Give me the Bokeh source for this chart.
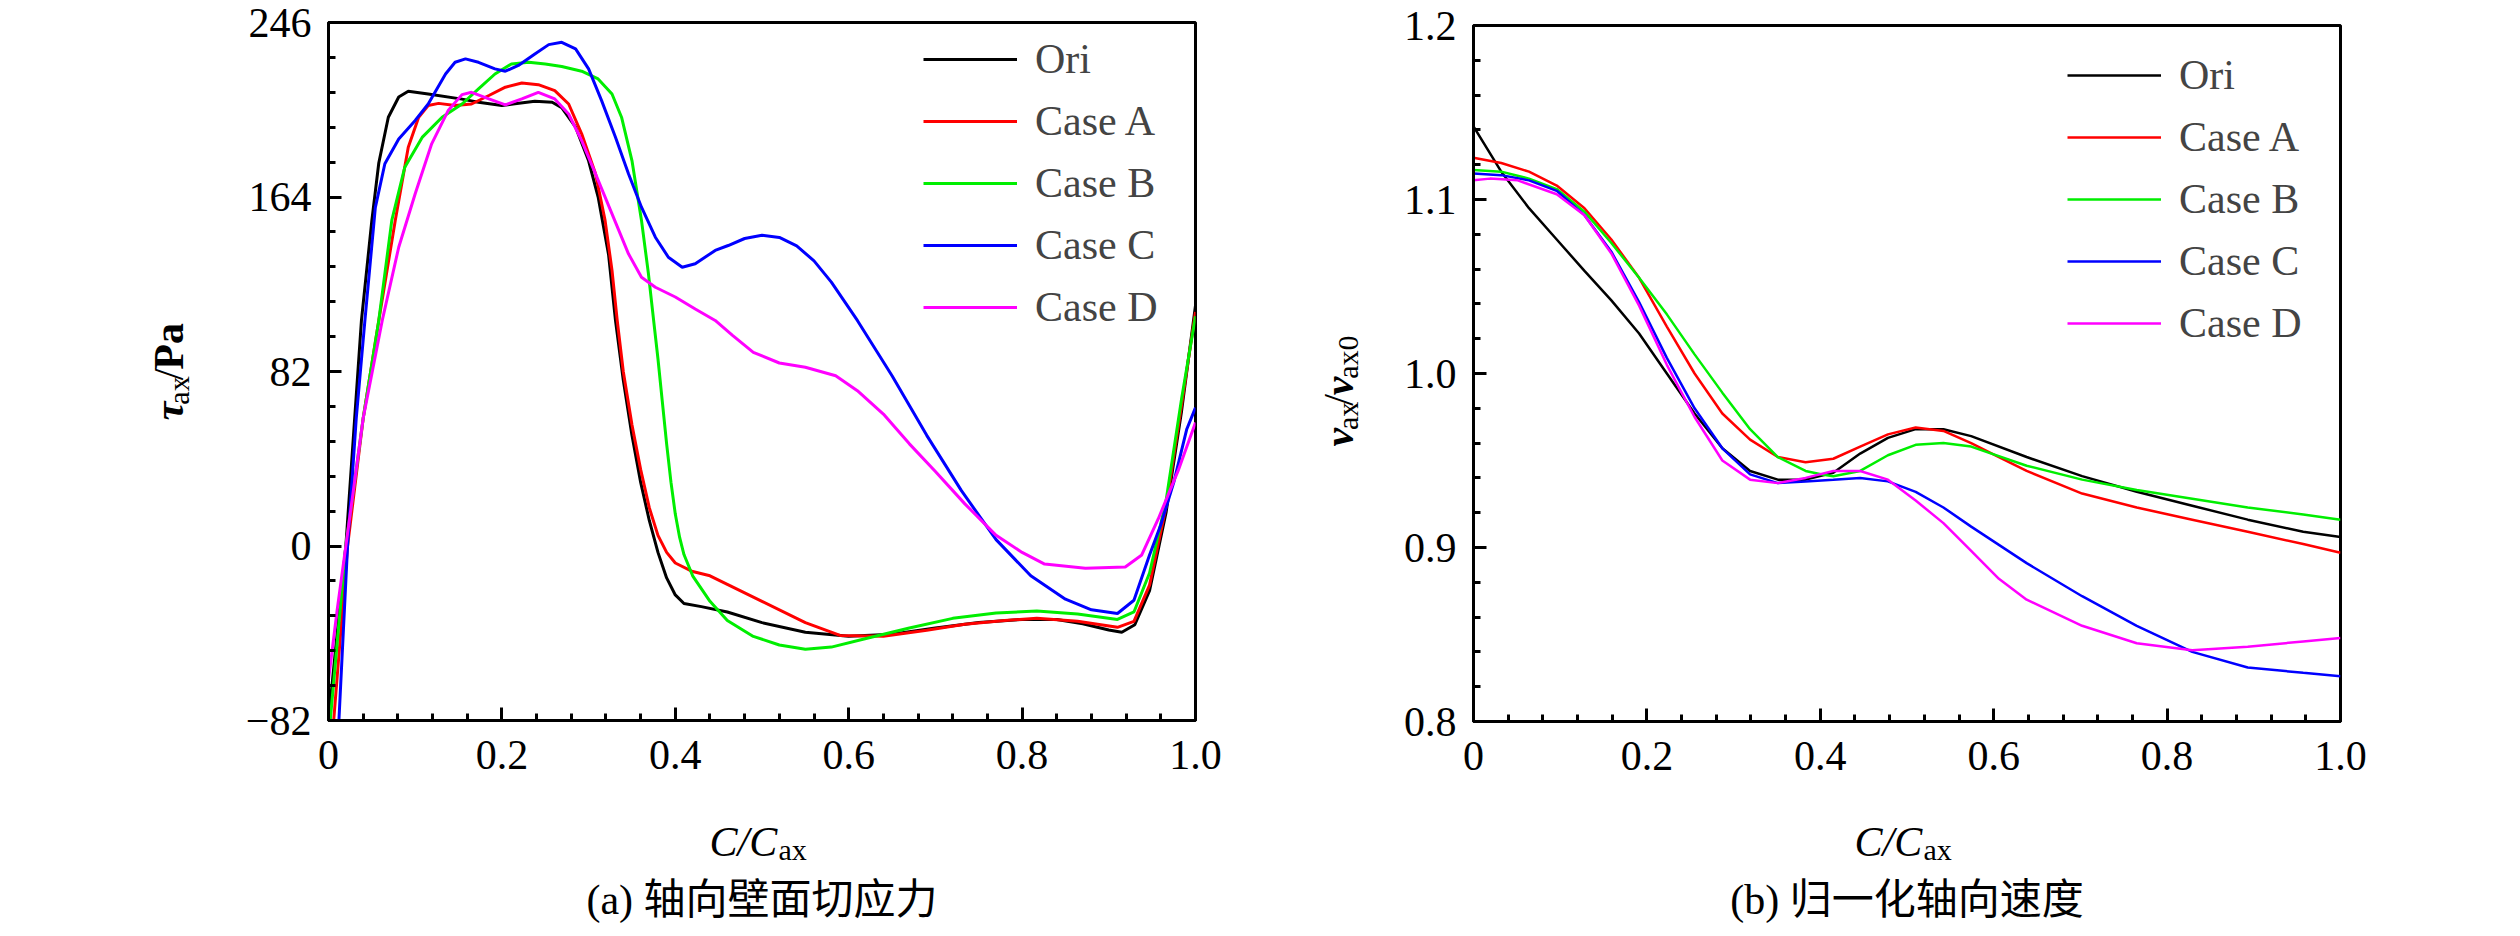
import math
from bokeh.plotting import figure
from bokeh.layouts import row, column
from bokeh.models import Range1d, FixedTicker, Label, Legend, LegendItem
from bokeh.embed import file_html
from bokeh.resources import INLINE

# ---- (a) axial wall shear stress, tau_ax / Pa ----
a_ori_x = [0.0, 0.02, 0.038, 0.05, 0.058, 0.069, 0.081, 0.092, 0.115, 0.154, 0.173, 0.2, 0.215, 0.238, 0.258,
           0.269, 0.285, 0.30, 0.311, 0.323, 0.331, 0.34, 0.35, 0.36, 0.37, 0.38, 0.39, 0.40, 0.41, 0.43, 0.46,
           0.50, 0.55, 0.60, 0.65, 0.70, 0.75, 0.80, 0.84, 0.87, 0.90, 0.915, 0.93, 0.947, 0.966, 0.984, 1.0]
a_ori_y = [-82, 0, 106, 153, 180, 201.5, 211, 213.7, 212.4, 210, 208.5, 207, 207.8, 209, 208.5,
           206, 196.8, 181, 164, 137, 106, 78, 52, 30, 12, -3, -15, -23, -27, -28.5, -31,
           -36, -40.5, -42.4, -41.5, -38.5, -36, -34.5, -34.5, -36.5, -39.5, -40.5, -37, -21, 15.6, 63.6, 113]

a_a_x = [0.006, 0.022, 0.04, 0.058, 0.077, 0.092, 0.104, 0.115, 0.127, 0.146, 0.165, 0.185, 0.204, 0.223, 0.242,
         0.261, 0.277, 0.292, 0.308, 0.319, 0.327, 0.333, 0.34, 0.35, 0.36, 0.37, 0.38, 0.39, 0.40, 0.42, 0.44,
         0.46, 0.50, 0.55, 0.59, 0.64, 0.69, 0.734, 0.78, 0.817, 0.864, 0.91, 0.929, 0.947, 0.966, 0.984, 1.0]
a_a_y = [-82, 0, 60, 106, 153, 187.4, 201.5, 207, 208, 207, 207.7, 211.7, 215.6, 217.6, 216.8,
         214, 207.7, 193.7, 174.9, 153, 129.5, 106, 82, 57, 36, 18, 5, -3, -8, -12, -14,
         -18, -26, -36, -42, -42.4, -39.6, -36.8, -35, -33.9, -35.4, -38.2, -35.4, -18.4, 18.4, 66.5, 110]

a_b_x = [0.002, 0.02, 0.04, 0.058, 0.073, 0.088, 0.108, 0.131, 0.154, 0.173, 0.192, 0.211, 0.231, 0.25, 0.269,
         0.292, 0.311, 0.327, 0.338, 0.35, 0.361, 0.369, 0.375, 0.38, 0.385, 0.39, 0.395, 0.40, 0.405, 0.41,
         0.42, 0.44, 0.46, 0.49, 0.52, 0.55, 0.58, 0.62, 0.67, 0.72, 0.77, 0.817, 0.864, 0.91, 0.929, 0.947,
         0.966, 0.984, 1.0]
a_b_y = [-82, 0, 60, 106, 153, 178, 192, 201.5, 207.7, 214.8, 221.8, 226.5, 227.3, 226.5, 225.3,
         223.1, 219.5, 212.4, 201.5, 181.1, 153, 128, 106, 88, 68, 48, 30, 15, 4, -4,
         -14, -26, -35, -42.5, -46.5, -48.5, -47.5, -43.5, -38.5, -34, -31.5, -30.5, -32, -34.5, -31, -12.7,
         21.2, 69.3, 108]

a_c_x = [0.012, 0.022, 0.032, 0.042, 0.054, 0.065, 0.081, 0.1, 0.115, 0.135, 0.146, 0.158, 0.173, 0.192, 0.204,
         0.219, 0.238, 0.254, 0.269, 0.285, 0.3, 0.315, 0.331, 0.346, 0.361, 0.377, 0.392, 0.408, 0.423, 0.446,
         0.461, 0.48, 0.50, 0.52, 0.54, 0.56, 0.58, 0.61, 0.65, 0.69, 0.73, 0.77, 0.81, 0.85, 0.88, 0.91,
         0.929, 0.947, 0.96, 0.975, 0.99, 1.0]
a_c_y = [-82, 0, 60, 106, 159, 179.6, 191.3, 200, 207.7, 221.8, 227.3, 228.9, 227.3, 224.2, 223.1,
         225.8, 231.2, 235.6, 236.7, 233.6, 224.2, 209.3, 192.1, 174.9, 159.2, 145.1, 135.7, 131, 132.6, 138.9,
         141.2, 144.5, 146, 145, 141, 134, 124, 106, 80, 52, 26, 3, -14, -25, -30, -31.7,
         -25.5, -4.2, 10, 30, 55, 65]

a_d_x = [0.0, 0.01, 0.02, 0.04, 0.062, 0.081, 0.1, 0.119, 0.138, 0.154, 0.165, 0.185, 0.204, 0.223, 0.242,
         0.261, 0.277, 0.292, 0.308, 0.327, 0.346, 0.361, 0.377, 0.40, 0.423, 0.446, 0.466, 0.49, 0.52, 0.55,
         0.585, 0.61, 0.64, 0.67, 0.70, 0.734, 0.77, 0.80, 0.826, 0.873, 0.919, 0.938, 0.957, 0.98, 1.0]
a_d_y = [-63, -30, 0, 60, 106, 140.4, 165.5, 189, 204.6, 212.1, 213.2, 210.1, 207.3, 210.1, 213.2,
         210.1, 203, 190.5, 174.9, 156.1, 137.3, 126.3, 121.6, 117, 111.4, 106, 99, 91, 86, 84,
         80, 73, 62, 48, 35, 19.8, 5, -3, -8.5, -10.5, -9.9, -4.2, 12.7, 35.4, 58]

# ---- (b) normalised axial velocity, v_ax / v_ax0 ----
b_ori_x = [0, 0.032, 0.064, 0.096, 0.128, 0.159, 0.191, 0.223, 0.255, 0.287, 0.319, 0.351, 0.383, 0.415,
           0.446, 0.478, 0.510, 0.542, 0.574, 0.638, 0.702, 0.765, 0.829, 0.893, 0.957, 1.0]
b_ori_y = [1.142, 1.116, 1.095, 1.077, 1.059, 1.042, 1.023, 1.0, 0.977, 0.957, 0.944, 0.939, 0.939, 0.943,
           0.954, 0.963, 0.968, 0.968, 0.964, 0.952, 0.941, 0.932, 0.924, 0.916, 0.909, 0.906]

b_a_x = [0, 0.032, 0.064, 0.096, 0.128, 0.159, 0.191, 0.223, 0.255, 0.287, 0.319, 0.351, 0.383, 0.415,
         0.446, 0.478, 0.510, 0.542, 0.574, 0.606, 0.638, 0.702, 0.765, 0.829, 0.893, 0.957, 1.0]
b_a_y = [1.124, 1.121, 1.116, 1.108, 1.095, 1.077, 1.055, 1.027, 1.0, 0.977, 0.962, 0.952, 0.949, 0.951,
         0.958, 0.965, 0.969, 0.967, 0.960, 0.952, 0.944, 0.931, 0.923, 0.916, 0.909, 0.902, 0.897]

b_b_x = [0, 0.032, 0.064, 0.096, 0.128, 0.159, 0.191, 0.223, 0.255, 0.287, 0.319, 0.351, 0.383, 0.402,
         0.415, 0.446, 0.478, 0.510, 0.542, 0.574, 0.638, 0.702, 0.765, 0.829, 0.893, 0.957, 1.0]
b_b_y = [1.117, 1.116, 1.112, 1.106, 1.093, 1.075, 1.055, 1.034, 1.011, 0.989, 0.968, 0.952, 0.944, 0.942,
         0.941, 0.944, 0.953, 0.959, 0.960, 0.958, 0.947, 0.939, 0.933, 0.928, 0.923, 0.919, 0.916]

b_c_x = [0, 0.032, 0.064, 0.096, 0.128, 0.159, 0.191, 0.223, 0.255, 0.287, 0.319, 0.351, 0.383, 0.415,
         0.446, 0.478, 0.510, 0.542, 0.574, 0.638, 0.702, 0.765, 0.829, 0.893, 0.957, 1.0]
b_c_y = [1.115, 1.114, 1.111, 1.105, 1.091, 1.070, 1.041, 1.009, 0.980, 0.957, 0.942, 0.937, 0.938, 0.939,
         0.940, 0.938, 0.932, 0.923, 0.912, 0.891, 0.872, 0.855, 0.840, 0.831, 0.828, 0.826]

b_d_x = [0, 0.019, 0.051, 0.096, 0.128, 0.159, 0.191, 0.223, 0.255, 0.287, 0.319, 0.351, 0.383, 0.415,
         0.446, 0.478, 0.510, 0.542, 0.574, 0.606, 0.638, 0.702, 0.765, 0.829, 0.893, 0.957, 1.0]
b_d_y = [1.111, 1.112, 1.111, 1.103, 1.091, 1.069, 1.039, 1.005, 0.975, 0.950, 0.939, 0.937, 0.940, 0.944,
         0.944, 0.939, 0.927, 0.914, 0.898, 0.882, 0.870, 0.855, 0.845, 0.841, 0.843, 0.846, 0.848]

names = ["Ori", "Case A", "Case B", "Case C", "Case D"]
colors = ["#000000", "#ff0000", "#00ee00", "#0000ff", "#ff00ff"]

x_ticks = [0, 0.2, 0.4, 0.6, 0.8, 1.0]
x_labels = ["0", "0.2", "0.4", "0.6", "0.8", "1.0"]
a_ticks = [-82, 0, 82, 164, 246]
a_labels = ["\u221282", "0", "82", "164", "246"]
b_ticks = [0.8, 0.9, 1.0, 1.1, 1.2]
b_labels = ["0.8", "0.9", "1.0", "1.1", "1.2"]

SERIF = "Liberation Serif"
CAPTION_FONT = "Liberation Serif, Noto Sans CJK SC"
UP = math.pi / 2


def text_box(w, h):
    # blank canvas whose data units are pixels, only used to hold text
    p = figure(width=w, height=h, x_range=Range1d(0, w), y_range=Range1d(0, h),
               x_axis_type=None, y_axis_type=None, min_border=0,
               output_backend="svg", toolbar_location=None)
    p.outline_line_color = None
    p.grid.visible = False
    return p


def txt(p, x, y, text, size, style="normal", angle=0.0, align="left", font=SERIF):
    p.add_layout(Label(x=x, y=y, text=text, text_font=font, text_font_size=size,
                       text_font_style=style, text_color="black", angle=angle,
                       text_align=align, text_baseline="alphabetic"))


def panel(series, yr, yt, ylab, yminor, w, border, lw, leg_loc):
    p = figure(width=w, height=800, x_range=Range1d(0, 1), y_range=Range1d(*yr),
               output_backend="svg", toolbar_location=None,
               min_border_left=border[0], min_border_right=border[1],
               min_border_top=border[2], min_border_bottom=border[3])
    p.grid.visible = False
    p.outline_line_color = "black"
    p.outline_line_width = 3

    items = []
    for (xs, ys), name, c in zip(series, names, colors):
        r = p.line(xs, ys, line_color=c, line_width=lw)
        items.append(LegendItem(label=name, renderers=[r]))

    p.xaxis.ticker = FixedTicker(ticks=x_ticks, minor_ticks=[i * 0.04 for i in range(26)])
    p.xaxis.major_label_overrides = dict(zip(x_ticks, x_labels))
    p.yaxis.ticker = FixedTicker(ticks=yt, minor_ticks=yminor)
    p.yaxis.major_label_overrides = dict(zip(yt, ylab))
    for ax in (p.xaxis[0], p.yaxis[0]):
        ax.axis_line_width = 3
        ax.major_tick_in = 13
        ax.major_tick_out = 0
        ax.minor_tick_in = 7
        ax.minor_tick_out = 0
        ax.major_tick_line_width = 3
        ax.minor_tick_line_width = 3
        ax.major_label_text_font = SERIF
        ax.major_label_text_font_size = "42px"
        ax.major_label_text_color = "black"
    p.xaxis.major_label_standoff = 20
    p.yaxis.major_label_standoff = 17

    leg = Legend(items=items, location=leg_loc, border_line_color=None,
                 background_fill_alpha=0, padding=0, margin=0, spacing=0,
                 glyph_width=94, glyph_height=62, label_height=62, label_standoff=18,
                 label_text_font=SERIF, label_text_font_size="42px",
                 label_text_baseline="middle")
    p.add_layout(leg)
    return p


# ---- panel (a) ----
main_a = panel([(a_ori_x, a_ori_y), (a_a_x, a_a_y), (a_b_x, a_b_y), (a_c_x, a_c_y), (a_d_x, a_d_y)],
               (-82, 246), a_ticks, a_labels, [-82 + 16.4 * i for i in range(21)],
               1032, (100, 65, 22, 80), 3, (595, 382))
ytit_a = text_box(228, 800)
txt(ytit_a, 168, 344, "τ", "42px", "bold italic", angle=UP)
txt(ytit_a, 178, 362, "ax", "30px", angle=UP)
txt(ytit_a, 168, 390, "/", "42px", angle=UP)
txt(ytit_a, 168, 402, "Pa", "42px", "bold", angle=UP)
bot_a = text_box(1260, 128)
txt(bot_a, 709, 87, "C/C", "42px", "italic")
txt(bot_a, 778, 79, "ax", "30px")
txt(bot_a, 761.5, 29, "(a) 轴向壁面切应力", "42px", align="center", font=CAPTION_FONT)

# ---- panel (b) ----
main_b = panel([(b_ori_x, b_ori_y), (b_a_x, b_a_y), (b_b_x, b_b_y), (b_c_x, b_c_y), (b_d_x, b_d_y)],
               (0.8, 1.2), b_ticks, b_labels, [0.8 + 0.02 * i for i in range(21)],
               1124, (93, 164, 25, 79), 2.5, (594, 367))
ytit_b = text_box(120, 800)
txt(ytit_b, 78, 316, "v", "42px", "bold italic", angle=UP)
txt(ytit_b, 87, 335, "ax", "30px", angle=UP)
txt(ytit_b, 78, 363, "/", "42px", angle=UP)
txt(ytit_b, 78, 375, "v", "42px", "bold italic", angle=UP)
txt(ytit_b, 87, 394, "ax0", "30px", angle=UP)
bot_b = text_box(1244, 128)
txt(bot_b, 594, 87, "C/C", "42px", "italic")
txt(bot_b, 663, 79, "ax", "30px")
txt(bot_b, 646.5, 29, "(b) 归一化轴向速度", "42px", align="center", font=CAPTION_FONT)

page = row(column(row(ytit_a, main_a), bot_a), column(row(ytit_b, main_b), bot_b))
open("out.html", "w").write(file_html(page, INLINE))
